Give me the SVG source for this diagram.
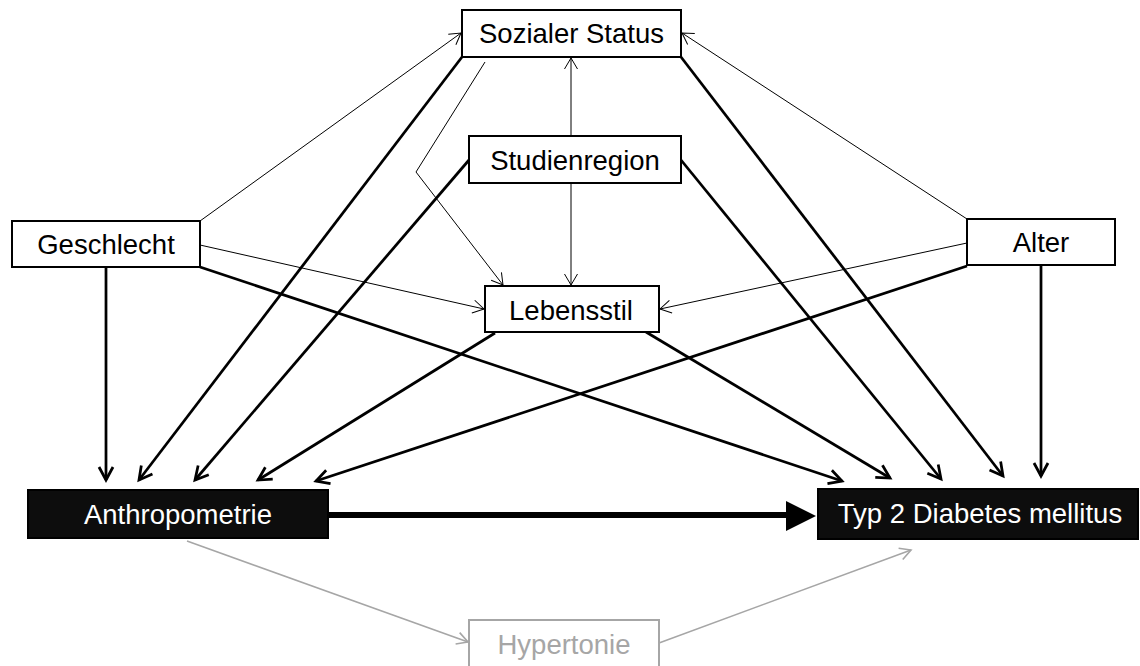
<svg xmlns="http://www.w3.org/2000/svg" width="1140" height="666" viewBox="0 0 1140 666">
<style>
.box{fill:#fff;stroke:#000;stroke-width:2}
.dark{fill:#0d0d0d;stroke:#000;stroke-width:2}
.gbox{fill:#fff;stroke:#a6a6a6;stroke-width:2}
.t{font-family:"Liberation Sans",Arial,sans-serif;font-size:27.5px;text-anchor:middle;fill:#000}
.tw{fill:#fff}
.tg{fill:#a6a6a6}
.thin{stroke:#000;stroke-width:1;fill:none;marker-end:url(#aThin)}
.thick{stroke:#000;stroke-width:2.75;fill:none;marker-end:url(#aThick)}
.gray{stroke:#a6a6a6;stroke-width:1.6;fill:none;marker-end:url(#aGray)}
</style>
<defs>
<marker id="aThin" markerUnits="userSpaceOnUse" markerWidth="24" markerHeight="24" viewBox="-12 -12 24 24" refX="0" refY="0" orient="auto" overflow="visible">
<path d="M-11,-6.5 L0,0 L-11,6.5" fill="none" stroke="#000" stroke-width="1"/>
</marker>
<marker id="aThick" markerUnits="userSpaceOnUse" markerWidth="30" markerHeight="30" viewBox="-15 -15 30 30" refX="0" refY="0" orient="auto" overflow="visible">
<path d="M-13,-7 L0,0 L-13,7" fill="none" stroke="#000" stroke-width="2.75"/>
</marker>
<marker id="aGray" markerUnits="userSpaceOnUse" markerWidth="24" markerHeight="24" viewBox="-12 -12 24 24" refX="0" refY="0" orient="auto" overflow="visible">
<path d="M-11,-6 L0,0 L-11,6" fill="none" stroke="#a6a6a6" stroke-width="1.6"/>
</marker>
</defs>
<g id="connectors">
<line class="thin" x1="200" y1="221" x2="461" y2="33"/>
<line class="thin" x1="967" y1="219" x2="682" y2="33"/>
<line class="thin" x1="571" y1="136" x2="571" y2="58"/>
<line class="thin" x1="571" y1="183" x2="571" y2="285"/>
<polyline class="thin" points="485,62 416,172 503,285"/>
<line class="thin" x1="200" y1="245" x2="484" y2="309"/>
<line class="thin" x1="967" y1="243" x2="660" y2="309"/>
<line class="thick" x1="106" y1="267" x2="106" y2="480"/>
<line class="thick" x1="462" y1="57" x2="139" y2="480"/>
<line class="thick" x1="469" y1="160" x2="195" y2="480"/>
<line class="thick" x1="495" y1="333" x2="258" y2="480"/>
<line class="thick" x1="967" y1="266" x2="316" y2="481"/>
<line class="thick" x1="200" y1="267" x2="842" y2="481"/>
<line class="thick" x1="646" y1="332" x2="890" y2="478"/>
<line class="thick" x1="681" y1="160" x2="941" y2="479"/>
<line class="thick" x1="681" y1="57" x2="1003" y2="476"/>
<line class="thick" x1="1041" y1="265" x2="1041" y2="476"/>
<line x1="328" y1="515" x2="790" y2="515" stroke="#000" stroke-width="6"/>
<polygon points="786,501 816,516 786,531" fill="#000"/>
<line class="gray" x1="187" y1="541" x2="468" y2="642"/>
<line class="gray" x1="659" y1="643" x2="911" y2="550"/>
</g>
<g id="sozialer-status">
<rect class="box" x="462" y="10" width="219" height="47"/>
<text class="t" x="571.5" y="43">Sozialer Status</text>
</g>
<g id="studienregion">
<rect class="box" x="469" y="136" width="212" height="47"/>
<text class="t" x="575" y="170">Studienregion</text>
</g>
<g id="geschlecht">
<rect class="box" x="12" y="221" width="188" height="46"/>
<text class="t" x="106" y="254">Geschlecht</text>
</g>
<g id="alter">
<rect class="box" x="967" y="219" width="148" height="46"/>
<text class="t" x="1041" y="252">Alter</text>
</g>
<g id="lebensstil">
<rect class="box" x="485" y="286" width="174" height="46"/>
<text class="t" x="571" y="320">Lebensstil</text>
</g>
<g id="anthropometrie">
<rect class="dark" x="28" y="490" width="300" height="48"/>
<text class="t tw" x="178" y="524">Anthropometrie</text>
</g>
<g id="typ2">
<rect class="dark" x="818" y="489" width="320" height="50"/>
<text class="t tw" x="980" y="523">Typ 2 Diabetes mellitus</text>
</g>
<g id="hypertonie">
<rect class="gbox" x="469" y="620" width="190" height="50"/>
<text class="t tg" x="564" y="654">Hypertonie</text>
</g>
</svg>
